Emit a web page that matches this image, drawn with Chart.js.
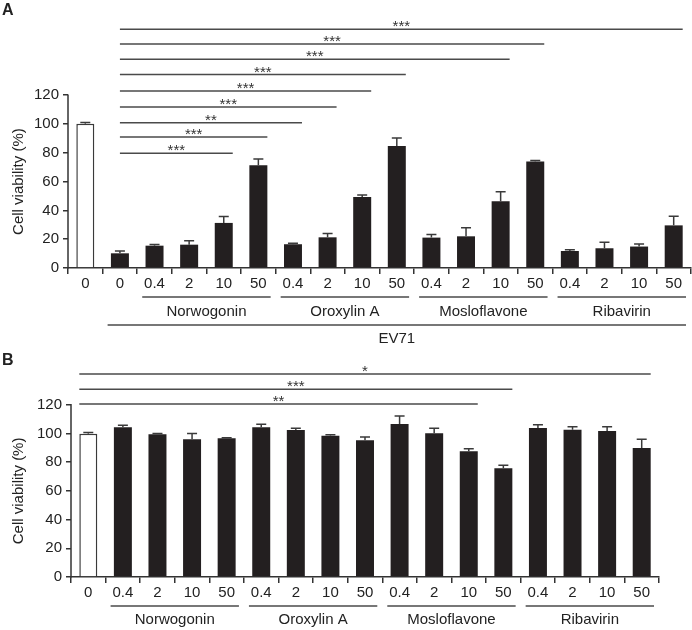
<!DOCTYPE html>
<html><head><meta charset="utf-8">
<script src="https://cdn.jsdelivr.net/npm/chart.js@4.4.1/dist/chart.umd.min.js"></script>
<style>
html,body{margin:0;padding:0;background:#fff;}
#wrap{position:relative;width:692px;height:630px;overflow:hidden;}
.panel{position:absolute;left:0;width:692px;}
#pa{top:0;height:345px;} #pb{top:345px;height:285px;}
.lbl{position:absolute;font:bold 16px "Liberation Sans",Arial,sans-serif;line-height:16px;color:#222;}
</style></head><body>
<div id="wrap">
<div class="panel" id="pa"><canvas id="ca"></canvas></div>
<div class="panel" id="pb"><canvas id="cb"></canvas></div>
<div class="lbl" style="left:2px;top:2px">A</div>
<div class="lbl" style="left:2px;top:352px">B</div>
</div>
<script>
const FONT = '"Liberation Sans", Arial, sans-serif';
// ---------- data ----------
const dosesA = ['0','0','0.4','2','10','50','0.4','2','10','50','0.4','2','10','50','0.4','2','10','50'];
const valuesA = [100.2,10.2,15.5,16.2,31.3,71.3,16.5,21.3,49.3,84.7,21.1,22.0,46.3,73.9,11.8,13.7,14.9,29.6];
const errA    = [0.8,1.6,0.9,2.8,4.4,4.4,0.6,2.6,1.4,5.6,2.1,6.0,6.7,0.7,0.9,4.1,1.8,6.3];
const dosesB = ['0','0.4','2','10','50','0.4','2','10','50','0.4','2','10','50','0.4','2','10','50'];
const valuesB = [99.8,104.3,99.4,96.0,96.6,104.3,102.4,98.5,95.3,106.6,100.1,87.6,75.7,103.8,102.6,101.7,89.9];
const errB    = [0.9,1.4,0.6,4.0,0.5,2.1,1.2,0.7,2.3,5.6,3.5,1.8,2.1,2.3,2.1,3.0,6.0];
const groupNames = ['Norwogonin','Oroxylin A','Mosloflavone','Ribavirin'];
const groupStartA = [2,6,10,14];
const groupStartB = [1,5,9,13];
const groupSize = 4;
const virusLabel = 'EV71';
const yTicks = [0,20,40,60,80,100,120];
const yTitle = 'Cell viability (%)';
// significance brackets
const sigA_end   = [4,5,6,7,8,9,12,13,17];
const sigA_level = [79.6,90.9,100.9,111.8,122.9,134.3,145,155.6,165.8];
const sigA_text  = ['***','***','**','***','***','***','***','***','***'];
const sigB_end   = [11,12,16];
const sigB_level = [120.5,130.8,141.5];
const sigB_text  = ['**','***','*'];

function makePanel(canvasId, cfg){
  const n = cfg.labels.length;
  const bg = cfg.labels.map((l,i)=> i===0 ? '#ffffff' : '#231f20');
  const bw = cfg.labels.map((l,i)=> i===0 ? 1.5 : 0);
  const annot = {
    id:'annot',
    afterDatasetsDraw(chart){
      const ctx = chart.ctx, xs = chart.scales.x, ys = chart.scales.y, ca = chart.chartArea;
      const meta = chart.getDatasetMeta(0);
      ctx.save();
      // y axis line (0..120)
      ctx.strokeStyle = '#333'; ctx.lineWidth = 1.5;
      ctx.beginPath();
      ctx.moveTo(ca.left, ys.getPixelForValue(0)+0.75);
      ctx.lineTo(ca.left, ys.getPixelForValue(yTicks[yTicks.length-1])-0.75);
      ctx.stroke();
      // error bars (upper only)
      ctx.strokeStyle = '#3a3a3a'; ctx.lineWidth = 1.5;
      for(let i=0;i<n;i++){
        const el = meta.data[i];
        const yb = ys.getPixelForValue(cfg.values[i]);
        const yt = ys.getPixelForValue(cfg.values[i]+cfg.errs[i]);
        ctx.beginPath();
        ctx.moveTo(el.x, yb); ctx.lineTo(el.x, yt);
        ctx.moveTo(el.x-5, yt); ctx.lineTo(el.x+5, yt);
        ctx.stroke();
      }
      // significance lines
      ctx.font = '15px ' + FONT;
      ctx.textAlign = 'center'; ctx.textBaseline = 'alphabetic';
      for(let k=0;k<cfg.sigEnd.length;k++){
        const s = meta.data[cfg.sigStart];
        const e = meta.data[cfg.sigEnd[k]];
        const x1 = cfg.sigAnchor==='center' ? s.x : s.x - s.width/2;
        const x2 = e.x + e.width/2;
        const y = ys.getPixelForValue(cfg.sigLevel[k]);
        ctx.strokeStyle = '#4a4a4a'; ctx.lineWidth = 1.5;
        ctx.beginPath(); ctx.moveTo(x1,y); ctx.lineTo(x2,y); ctx.stroke();
        ctx.fillStyle = '#333';
        ctx.fillText(cfg.sigText[k], (x1+x2)/2, y+2);
      }
      // group underlines and names
      const step = xs.getPixelForValue(1) - xs.getPixelForValue(0);
      const yb0 = ca.bottom;
      ctx.fillStyle = '#222'; ctx.textBaseline = 'middle';
      for(let g=0; g<groupNames.length; g++){
        const a = xs.getPixelForValue(cfg.groupStart[g]) - step/2 + 5;
        const b = xs.getPixelForValue(cfg.groupStart[g]+groupSize-1) + step/2 - 5;
        ctx.strokeStyle = '#4a4a4a'; ctx.lineWidth = 1.5;
        ctx.beginPath(); ctx.moveTo(a, yb0+cfg.gLineOff); ctx.lineTo(b, yb0+cfg.gLineOff); ctx.stroke();
        ctx.fillText(groupNames[g], (a+b)/2, yb0+cfg.gTextOff);
      }
      if(cfg.virus){
        const a = xs.getPixelForValue(1) - step/2 + 5;
        const b = xs.getPixelForValue(n-1) + step/2 - 5;
        ctx.beginPath(); ctx.moveTo(a, yb0+cfg.vLineOff); ctx.lineTo(b, yb0+cfg.vLineOff); ctx.stroke();
        ctx.fillText(cfg.virus, (a+b)/2, yb0+cfg.vTextOff);
      }
      // y title
      ctx.save();
      ctx.translate(19, ys.getPixelForValue(60));
      ctx.rotate(-Math.PI/2);
      ctx.textAlign='center'; ctx.textBaseline='middle';
      ctx.fillText(yTitle, 0, 0);
      ctx.restore();
      ctx.restore();
    }
  };
  return new Chart(document.getElementById(canvasId), {
    type:'bar',
    data:{ labels: cfg.labels, datasets:[{ data: cfg.values, backgroundColor: bg, borderColor:'#3a3a3a', borderWidth: bw, borderSkipped:'bottom', barPercentage:0.52, categoryPercentage:1 }]},
    options:{
      responsive:true, maintainAspectRatio:false, animation:false, devicePixelRatio:1,
      layout:{ autoPadding:false, padding:{ top:cfg.padTop, right:cfg.padRight, left:0, bottom:0 } },
      plugins:{ legend:{display:false}, tooltip:{enabled:false} },
      scales:{
        x:{ type:'category', offset:true,
            grid:{ offset:true, drawOnChartArea:false, drawTicks:true, tickLength:6, color:'#333', lineWidth:1.5 },
            border:{ display:true, color:'#333', width:1.5 },
            ticks:{ color:'#222', font:{family:FONT, size:15}, padding:1, maxRotation:0, autoSkip:false },
            afterFit(s){ s.height = cfg.xH; s.paddingLeft = 0; s.paddingRight = 0; } },
        y:{ min:0, max:cfg.yMax,
            afterBuildTicks(s){ s.ticks = yTicks.map(v=>({value:v})); },
            grid:{ drawOnChartArea:false, drawTicks:true, tickLength:5, color:'#333', lineWidth:1.5 },
            border:{ display:false },
            ticks:{ color:'#222', font:{family:FONT, size:15}, padding:4 },
            afterFit(s){ s.width = cfg.yW; s.paddingTop = 0; s.paddingBottom = 0; } }
      }
    },
    plugins:[annot]
  });
}

makePanel('ca', { labels:dosesA, values:valuesA, errs:errA, groupStart:groupStartA,
  sigStart:1, sigAnchor:'center', sigEnd:sigA_end, sigLevel:sigA_level, sigText:sigA_text,
  virus:virusLabel, padTop:1, padRight:1, xH:77, yW:68, yMax:185.4,
  gLineOff:29, gTextOff:44, vLineOff:57, vTextOff:71 });
makePanel('cb', { labels:dosesB, values:valuesB, errs:errB, groupStart:groupStartB,
  sigStart:0, sigAnchor:'left', sigEnd:sigB_end, sigLevel:sigB_level, sigText:sigB_text,
  virus:null, padTop:15, padRight:33, xH:53, yW:71, yMax:151.2,
  gLineOff:29, gTextOff:43 });
</script>
</body></html>
